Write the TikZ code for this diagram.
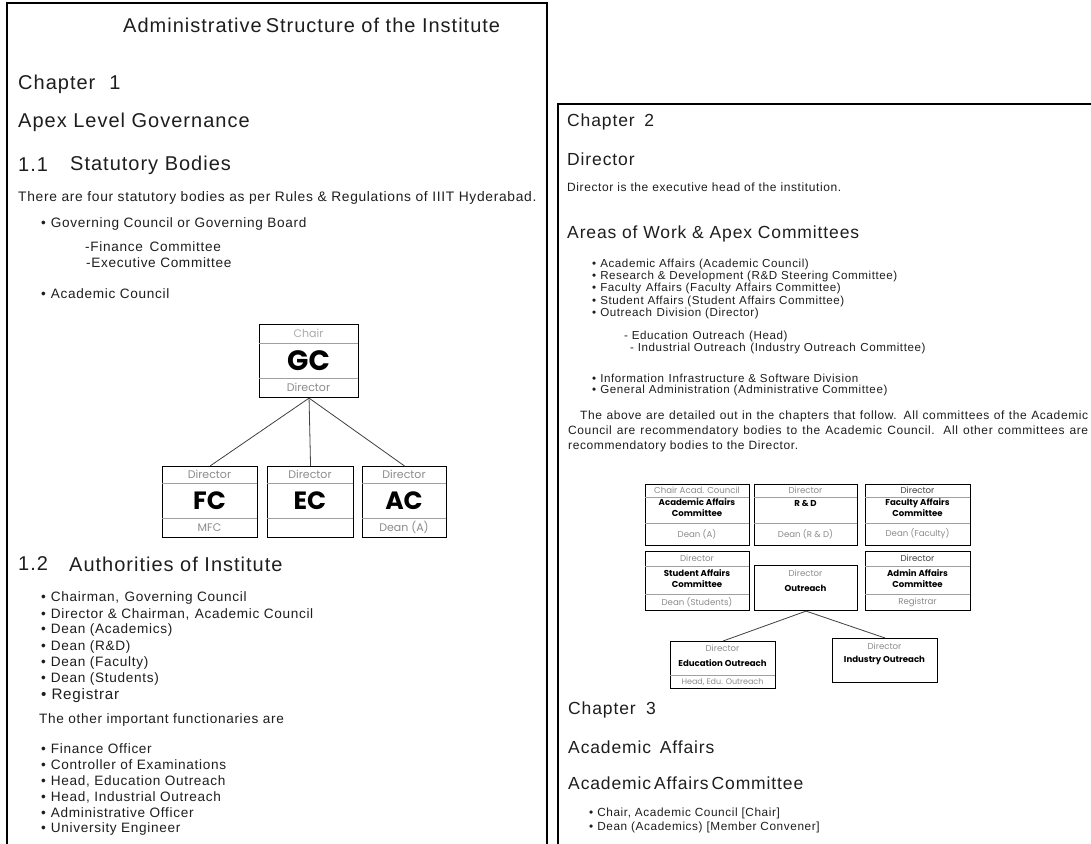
\documentclass[tikz,border=0pt]{standalone}
\usepackage{fontspec}
\setmainfont{Liberation Sans}[LetterSpace=5]
\newfontfamily\boxfont{Poppins}
\newcommand\fsz[1]{\fontsize{#1}{#1}\selectfont}
\newcommand\bul{\textbullet\hspace{5pt}}
\newcommand\bulr{\textbullet\hspace{4pt}}
\definecolor{ink}{HTML}{1E1E1E}
\definecolor{lbl}{HTML}{8C8C8C}
\definecolor{pale}{HTML}{ABABAB}
\definecolor{rulegray}{HTML}{A0A0A0}

\begin{document}
\begin{tikzpicture}[x=1pt,y=-1pt,
  txt/.style={anchor=west,inner sep=0pt,text=ink},
  hd/.style={txt,font=\fsz{20}},
  hdr/.style={txt,font=\fsz{17.5}},
  body/.style={txt,font=\fsz{13.8}},
  itemL/.style={txt,font=\fsz{13.6}},
  itemR/.style={txt,font=\fsz{11.6}},
  para/.style={txt,font=\fsz{12}},
  box/.style={draw=black,line width=1.1pt,anchor=north west,inner sep=0pt},
  div/.style={draw=rulegray,line width=0.5pt},
  glab/.style={inner sep=0pt,text=lbl,font=\boxfont\fsz{11}},
  big/.style={inner sep=0pt,text=black,font=\boxfont\bfseries\fsz{25}},
  slab/.style={inner sep=0pt,text=lbl,font=\boxfont\fontsize{8.6}{11}\selectfont,align=center},
  sbold/.style={inner sep=0pt,text=black,font=\boxfont\bfseries\fontsize{8.6}{11}\selectfont,align=center},
  conn/.style={draw=ink!85,line width=0.8pt},
]
\clip (0,0) rectangle (1091,843);
\fill[white] (0,0) rectangle (1091,843);

% ---------------- page one ----------------
\draw[line width=1.8pt] (7,3) rectangle (547,870);

\node[hd] (title) at (123,25) {Administrative\hspace{4pt}Structure of the Institute};
\node[hd] (ch1) at (18,84) {Chapter\hspace{0.7em}1};
\node[hd] (apex) at (18,122) {Apex Level Governance};
\node[hd] (s11n) at (18,165) {1.1};
\node[hd] (s11) at (70,165) {Statutory Bodies};
\node[body] (intro) at (18,198) {There are four statutory bodies as per Rules \& Regulations of IIIT Hyderabad.};
\node[itemL] (gov) at (41,224) {\bul Governing Council or Governing Board};
\node[itemL] (fin) at (85,247) {-Finance\hspace{0.5em}Committee};
\node[itemL] (exe) at (86,263) {-Executive Committee};
\node[itemL] (acc) at (41,294) {\bul Academic Council};

% statutory bodies chart
\node[box,minimum width=99pt,minimum height=73pt] (gc) at (259,324) {};
\draw[div] (259,343) -- (358,343);
\draw[div] (259,378) -- (358,378);
\node[glab,text=pale] (gcchair) at (308.5,333.5) {Chair};
\node[big,font=\boxfont\bfseries\fsz{28}] (gclbl) at (308.5,360.5) {GC};
\node[glab] (gcdir) at (308.5,387.5) {Director};

\node[box,minimum width=95pt,minimum height=71pt] (fc) at (162,466) {};
\node[box,minimum width=86pt,minimum height=71pt] (ec) at (267,466) {};
\node[box,minimum width=84pt,minimum height=71pt] (ac) at (362,466) {};
\foreach \a/\b in {162/257,267/353,362/446}{
  \draw[div] (\a,483) -- (\b,483);
  \draw[div] (\a,518) -- (\b,518);
}
\node[glab] (fcdir) at (209.5,474.5) {Director};
\node[big] (fclbl) at (209.5,500.5) {FC};
\node[glab] (fcbot) at (209.5,527.5) {MFC};
\node[glab] (ecdir) at (310,474.5) {Director};
\node[big] (eclbl) at (310,500.5) {EC};
\node[glab] (acdir) at (404,474.5) {Director};
\node[big] (aclbl) at (404,500.5) {AC};
\node[glab] (acbot) at (404,527.5) {Dean (A)};

\draw[conn] (gc.south) -- (fc.north);
\draw[conn] (gc.south) -- (ec.north);
\draw[conn] (gc.south) -- (ac.north);

\node[hd] (s12n) at (18,564) {1.2};
\node[hd] (s12) at (69,564) {Authorities of Institute};
\node[itemL] (a1) at (41,598) {\bul Chairman,\hspace{0.4em}Governing Council};
\node[itemL] (a2) at (41,614) {\bul Director \& Chairman,\hspace{0.4em}Academic Council};
\node[itemL] (a3) at (41,630) {\bul Dean (Academics)};
\node[itemL] (a4) at (41,647) {\bul Dean (R\&D)};
\node[itemL] (a5) at (41,663) {\bul Dean (Faculty)};
\node[itemL] (a6) at (41,679) {\bul Dean (Students)};
\node[itemL,font=\fsz{15.2}] (a7) at (41,696) {\bul Registrar};
\node[itemL] (other) at (39,720) {The other important functionaries are};
\node[itemL] (f1) at (41,749) {\bul Finance Officer};
\node[itemL] (f2) at (41,765) {\bul Controller of Examinations};
\node[itemL] (f3) at (41,781) {\bul Head, Education Outreach};
\node[itemL] (f4) at (41,797) {\bul Head, Industrial Outreach};
\node[itemL] (f5) at (41,813) {\bul Administrative Officer};
\node[itemL] (f6) at (41,829) {\bul University Engineer};

% ---------------- page two ----------------
\draw[line width=2.6pt] (558,104) rectangle (1110,870);

\node[hdr] (ch2) at (567,122) {Chapter\hspace{0.55em}2};
\node[hdr] (dirh) at (567,159) {Director};
\node[para] (dirt) at (567,187) {Director is the executive head of the institution.};
\node[hdr] (areas) at (567,234) {Areas of Work \& Apex Committees};
\node[itemR] (r1) at (592,264) {\bulr Academic Affairs (Academic Council)};
\node[itemR] (r2) at (592,276) {\bulr Research \& Development (R\&D Steering Committee)};
\node[itemR] (r3) at (592,288.5) {\bulr Faculty\hspace{0.4em}Affairs (Faculty\hspace{0.4em}Affairs Committee)};
\node[itemR] (r4) at (592,301) {\bulr Student Affairs (Student Affairs Committee)};
\node[itemR] (r5) at (592,313) {\bulr Outreach\hspace{0.4em}Division (Director)};
\node[itemR] (r5a) at (624,336) {- Education\hspace{0.4em}Outreach\hspace{0.4em}(Head)};
\node[itemR] (r5b) at (630,348) {- Industrial Outreach\hspace{0.4em}(Industry Outreach\hspace{0.4em}Committee)};
\node[itemR] (r6) at (592,378) {\bulr Information\hspace{0.4em}Infrastructure \& Software Division};
\node[itemR] (r7) at (592,390) {\bulr General Administration (Administrative Committee)};
\node[para] (p1) at (580,416) {\makebox[508pt][s]{The above are detailed out in the chapters that follow. All committees of the Academic}};
\node[para] (p2) at (568,431) {\makebox[520pt][s]{Council are recommendatory bodies to the Academic Council. All other committees are}};
\node[para] (p3) at (568,446) {recommendatory bodies to the Director.};

% apex committees chart
\node[box,minimum width=104pt,minimum height=61pt] (aa) at (645,484) {};
\node[box,minimum width=103pt,minimum height=61pt] (rd) at (754,484) {};
\node[box,minimum width=105pt,minimum height=61pt] (fa) at (865,484) {};
\foreach \a/\b in {645/749,754/857,865/970}{
  \draw[div] (\a,497) -- (\b,497);
  \draw[div] (\a,523) -- (\b,523);
}
\node[slab] (aatop) at (697,490.5) {Chair Acad. Council};
\node[sbold] (aamid) at (697,508) {Academic Affairs\\Committee};
\node[slab] (aabot) at (697,534) {Dean (A)};
\node[slab] (rdtop) at (805.5,490.5) {Director};
\node[sbold] (rdmid) at (805.5,503) {R \& D};
\node[slab] (rdbot) at (805.5,534) {Dean (R \& D)};
\node[slab,text=ink!85] (fatop) at (917.5,490.5) {Director};
\node[sbold] (famid) at (917.5,508) {Faculty Affairs\\Committee};
\node[slab] (fabot) at (917.5,534) {Dean (Faculty)};

\node[box,minimum width=104pt,minimum height=59pt] (sa) at (645,551) {};
\node[box,minimum width=103pt,minimum height=45pt] (out) at (754,565) {};
\node[box,minimum width=105pt,minimum height=59pt] (ad) at (865,551) {};
\foreach \a/\b in {645/749,865/970}{
  \draw[div] (\a,566) -- (\b,566);
  \draw[div] (\a,594) -- (\b,594);
}
\node[slab] (satop) at (697,558.5) {Director};
\node[sbold] (samid) at (697,578.5) {Student Affairs\\Committee};
\node[slab] (sabot) at (697,602) {Dean (Students)};
\node[slab] (outtop) at (805.5,573) {Director};
\node[sbold] (outmid) at (805.5,588) {Outreach};
\node[slab,text=ink!85] (adtop) at (917.5,558.5) {Director};
\node[sbold] (admid) at (917.5,578.5) {Admin Affairs\\Committee};
\node[slab] (adbot) at (917.5,602) {Registrar};

\node[box,minimum width=105pt,minimum height=47pt] (edu) at (670,641) {};
\node[box,minimum width=105pt,minimum height=44pt] (ind) at (832,638) {};
\draw[div] (670,675) -- (775,675);
\node[slab] (edutop) at (722.5,648) {Director};
\node[sbold] (edumid) at (722.5,663) {Education Outreach};
\node[slab,font=\boxfont\fsz{8}] (edubot) at (722.5,682) {Head, Edu. Outreach};
\node[slab] (indtop) at (884.5,646) {Director};
\node[sbold] (indmid) at (884.5,660) {Industry Outreach};

\draw[conn] (out.south) -- (edu.north);
\draw[conn] (out.south) -- (ind.north);

\node[hdr] (ch3) at (568,710) {Chapter\hspace{0.6em}3};
\node[hdr] (aah) at (568,747) {Academic\hspace{0.5em}Affairs};
\node[hdr] (aach) at (568,783) {Academic\hspace{3pt}Affairs\hspace{3pt}Committee};
\node[itemR,font=\fsz{11.8}] (c1) at (589,813) {\bulr Chair, Academic Council [Chair]};
\node[itemR,font=\fsz{11.8}] (c2) at (589,827) {\bulr Dean (Academics) [Member Convener]};
\end{tikzpicture}
\end{document}
